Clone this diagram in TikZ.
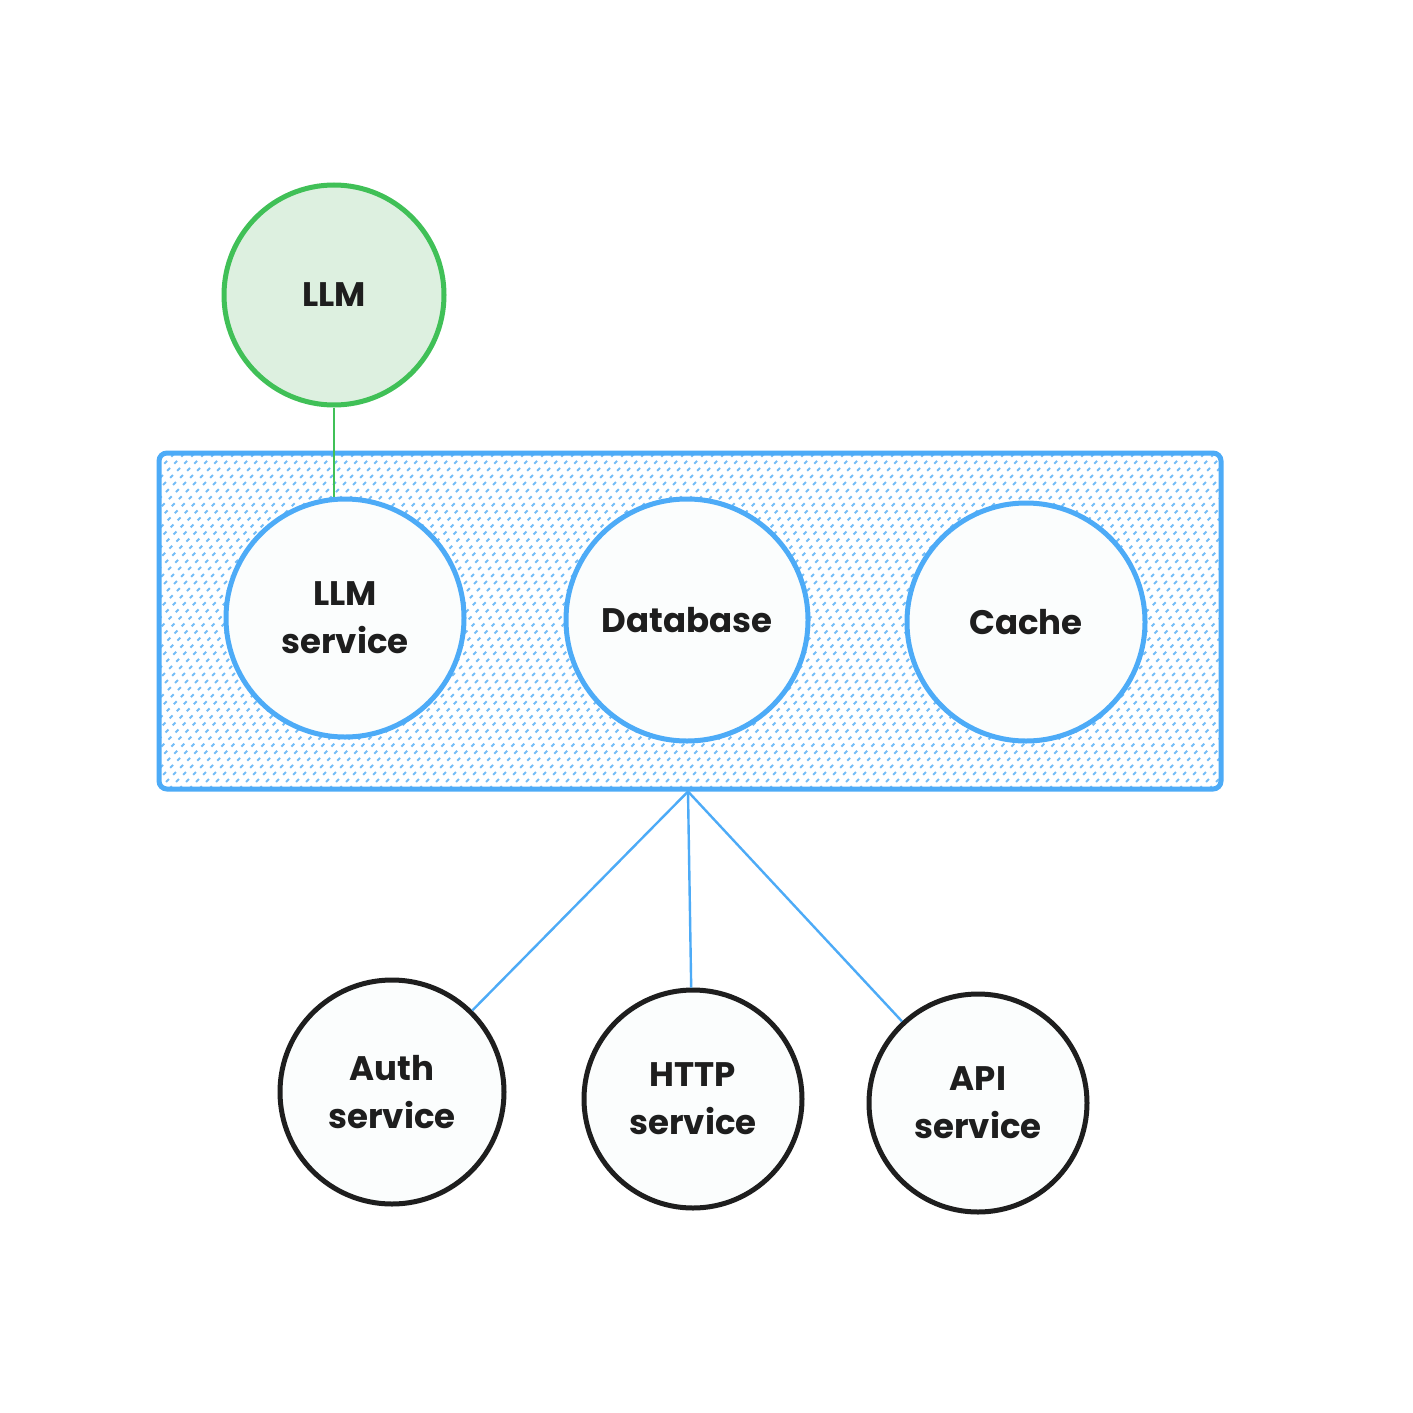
\documentclass[tikz,border=0pt]{standalone}
\usepackage{fontspec}
\setmainfont{Poppins}
\definecolor{xblue}{HTML}{4DABF7}
\definecolor{xhatch}{HTML}{74BDF7}
\definecolor{xgreen}{HTML}{40C057}
\definecolor{xgreenfill}{HTML}{DDF0E0}
\definecolor{xblack}{HTML}{1E1E1E}
\definecolor{xwhite}{HTML}{FBFDFD}
\tikzset{
  lbl/.style={font=\fontsize{17pt}{24pt}\selectfont\bfseries, text=xblack, align=center},
  bluecirc/.style={circle, draw=xblue, line width=2.5pt, fill=xwhite, inner sep=0pt, lbl},
  blackcirc/.style={circle, draw=xblack, line width=2.5pt, fill=xwhite, inner sep=0pt, lbl},
  greencirc/.style={circle, draw=xgreen, line width=2.5pt, fill=xgreenfill, inner sep=0pt, lbl},
  bluelink/.style={draw=xblue, line width=1.2pt},
  greenlink/.style={draw=xgreen, line width=1.1pt},
  hatchline/.style={draw=xhatch, line width=1pt, dash pattern=on 2pt off 3pt},
}
\begin{document}
\begin{tikzpicture}[x=0.5pt,y=-0.5pt]
\useasboundingbox[fill=white] (0,0) rectangle (1413,1413);
% container
\node (box) [draw=xblue, line width=2.5pt, rounded corners=4pt, fill=white,
  minimum width=531pt, minimum height=168pt, inner sep=0pt,
  path picture={
    \foreach \i in {0,...,145}{
      \draw[hatchline] ([xshift=\i*5pt-180pt]path picture bounding box.south west) -- ++(200pt,200pt);
    }
  }] at (690,621) {};
% nodes
\node (llm) [greencirc, minimum size=110pt] at (334,295) {LLM};
\node (llmsvc) [bluecirc, minimum size=119pt] at (345,618) {LLM\\service};
\node (db) [bluecirc, minimum size=121pt] at (687,620) {Database};
\node (cache) [bluecirc, minimum size=119pt] at (1026,622) {Cache};
\node (auth) [blackcirc, minimum size=112pt] at (392,1092) {Auth\\service};
\node (http) [blackcirc, minimum size=109pt] at (693,1099) {HTTP\\service};
\node (api) [blackcirc, minimum size=109pt] at (978,1103) {API\\service};
% connectors
\coordinate (hub) at ([xshift=-1pt]box.south);
\draw[greenlink] (llm.south) -- (llm.south |- llmsvc.north);
\draw[bluelink] (hub) -- (auth);
\draw[bluelink] (hub) -- (http);
\draw[bluelink] (hub) -- (api);
\end{tikzpicture}
\end{document}
